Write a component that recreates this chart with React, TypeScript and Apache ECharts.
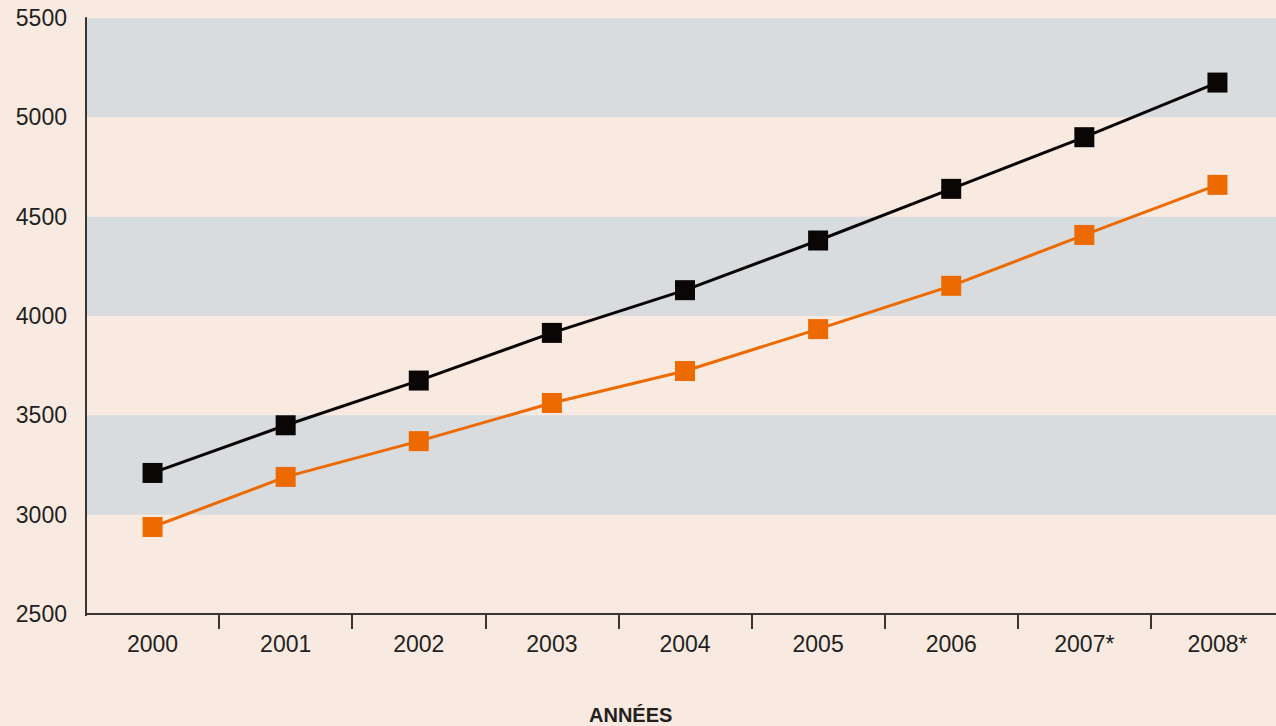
import React, { useEffect, useRef } from "react";
import * as echarts from "echarts";

const years = ["2000", "2001", "2002", "2003", "2004", "2005", "2006", "2007*", "2008*"];
const blackSeries = [3210, 3450, 3675, 3915, 4130, 4380, 4640, 4900, 5175];
const orangeSeries = [2938, 3190, 3370, 3562, 3723, 3934, 4152, 4408, 4660];
const yMin = 2500;
const yMax = 5500;
const yStep = 500;
const xTitle = "ANNÉES";

const BG = "#f8eae0";
const BAND = "#d9dcdf";
const FONT = "'Liberation Sans', Arial, Helvetica, sans-serif";

export default function App() {
  const ref = useRef<HTMLDivElement>(null);
  useEffect(() => {
    if (!ref.current) return;
    const chart = echarts.init(ref.current, undefined, { renderer: "svg" });
    chart.setOption({
      animation: false,
      backgroundColor: BG,
      grid: {
        left: 86,
        top: 18,
        width: 1198,
        bottom: 112,
        containLabel: false,
        outerBoundsMode: "none",
      },
      xAxis: {
        type: "category",
        data: years,
        boundaryGap: true,
        axisLine: { show: true, lineStyle: { color: "#3a3432", width: 2 } },
        axisTick: { show: true, length: 15, lineStyle: { color: "#3a3432", width: 2 } },
        axisLabel: { color: "#231f1e", fontSize: 23, fontFamily: FONT, margin: 18 },
        splitLine: { show: false },
      },
      yAxis: {
        type: "value",
        min: yMin,
        max: yMax,
        interval: yStep,
        axisLine: { show: true, lineStyle: { color: "#3a3432", width: 2 } },
        axisTick: { show: false },
        axisLabel: {
          color: "#231f1e",
          fontSize: 23,
          fontFamily: FONT,
          margin: 19,
          formatter: (v: number) => String(v),
        },
        splitLine: { show: false },
        splitArea: { show: true, areaStyle: { color: ["rgba(0,0,0,0)", BAND] } },
      },
      graphic: [
        {
          type: "rect",
          shape: { x: 83, y: 616, width: 5, height: 18 },
          style: { fill: BG },
          z: 100,
        },
        {
          type: "text",
          left: 589,
          top: 705,
          style: { text: xTitle, fill: "#231f1e", font: `bold 20px ${FONT}` },
        },
      ],
      series: [
        {
          type: "line",
          data: blackSeries,
          symbol: "rect",
          symbolSize: 20,
          lineStyle: { color: "#0a0606", width: 3 },
          itemStyle: { color: "#0a0606" },
          z: 3,
        },
        {
          type: "line",
          data: orangeSeries,
          symbol: "rect",
          symbolSize: 20,
          lineStyle: { color: "#ec6a00", width: 3 },
          itemStyle: { color: "#ec6a00" },
          z: 2,
        },
      ],
    });
    return () => chart.dispose();
  }, []);
  return (
    <div
      ref={ref}
      style={{ position: "fixed", left: 0, top: 0, width: 1276, height: 726 }}
    />
  );
}
